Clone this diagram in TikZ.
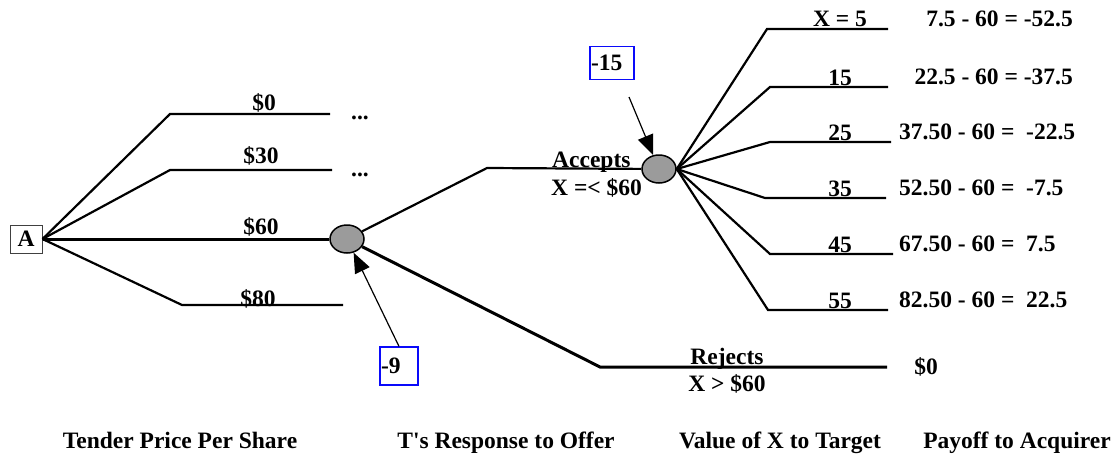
\documentclass[tikz,border=0pt]{standalone}
\usepackage{fontspec}
\setmainfont{Liberation Serif}
\usetikzlibrary{arrows.meta,shapes.geometric}

\definecolor{chancegray}{RGB}{155,155,155}
\definecolor{boxblue}{RGB}{10,10,250}

\tikzset{
  txt/.style={font=\fontsize{23.5}{27}\selectfont\bfseries, inner sep=0pt},
  lbl/.style={txt, anchor=base},
  branch/.style={line width=2.2pt},
  heavy/.style={line width=3pt},
  chance/.style={draw, ellipse, fill=chancegray, line width=1.5pt, minimum width=34pt, minimum height=28pt, inner sep=0pt},
  decision/.style={txt, draw=black!75, line width=1pt, minimum width=32pt, minimum height=28pt},
  valuebox/.style={txt, draw=boxblue, line width=1.2pt, align=left},
  pointer/.style={line width=1.2pt, -{Triangle[length=20pt,width=16pt]}}
}

\begin{document}
\begin{tikzpicture}[x=1pt,y=-1pt]

    \useasboundingbox (0,0) rectangle (1115,455);

    % Decision node of the acquirer
    \node[decision] (A) at (26,239) {A};

    % Tender price branches
    \coordinate (p0a) at (170,114);  \coordinate (p0b) at (330,114);
    \coordinate (p30a) at (170,170); \coordinate (p30b) at (332,170);
    \coordinate (p80a) at (182,305); \coordinate (p80b) at (343,305);
    \node[chance] (T) at (347,239) {};

    \draw[branch] (A.east) -- (p0a) -- (p0b);
    \draw[branch] (A.east) -- (p30a) -- (p30b);
    \draw[heavy] (A.east) -- (T);
    \draw[branch] (A.east) -- (p80a) -- (p80b);

    \node[lbl] (l0) at (264,110) {\$0};
    \node[lbl] (l30) at (261,163) {\$30};
    \node[lbl] (l60) at (261,234) {\$60};
    \node[lbl] (l80) at (258,306) {\$80};
    \node[lbl] (d0) at (360,119) {...};
    \node[lbl] (d30) at (360,176) {...};

    % Target's response
    \coordinate (acc) at (487,168);
    \coordinate (rej) at (600,367); \coordinate (rejend) at (887,367);
    \node[chance] (U) at (659,169) {};

    \draw[branch] (T) -- (acc) -- (U);
    \draw[heavy] (T) -- (rej) -- (rejend);

    \node[lbl, anchor=base west] (accA) at (552,167) {Accepts};
    \node[lbl, anchor=base west] (accB) at (551,195) {X =< \$60};
    \node[lbl] (rejA) at (727,364) {Rejects};
    \node[lbl] (rejB) at (727,391) {X > \$60};
    \node[lbl] (pay0) at (926,374) {\$0};

    % Values at the chance nodes
    \node[valuebox, minimum width=38pt, minimum height=38pt, text width=36pt] (v9) at (399,366) {-9};
    \node[valuebox, minimum width=44pt, minimum height=33pt, text width=42pt] (v15) at (612,63) {-15};
    \coordinate (s15) at (629,97);

    \draw[pointer] (v9.north) -- (T);
    \draw[pointer] (s15) -- (U);

    % Values of X
    \foreach \n/\cx/\y/\ex/\v in {1/767/29/888/X = 5, 2/770/87/888/15, 3/770/142/891/25,
                                  4/765/198/886/35, 5/770/254/893/45, 6/768/310/888/55} {
      \coordinate (x\n a) at (\cx,\y);
      \coordinate (x\n b) at (\ex,\y);
      \draw[branch] (U.east) -- (x\n a) -- (x\n b);
      \node[lbl] (xl\n) at (840,\y-2) {\v};
    }

    % Payoffs
    \node[lbl, anchor=base east] (pay1) at (1073,27) {7.5 - 60 = -52.5};
    \node[lbl, anchor=base east] (pay2) at (1073,84) {22.5 - 60 = -37.5};
    \node[lbl, anchor=base west] (pay3) at (899,139) {37.50 - 60 =\ \ -22.5};
    \node[lbl, anchor=base west] (pay4) at (899,195) {52.50 - 60 =\ \ -7.5};
    \node[lbl, anchor=base west] (pay5) at (899,251) {67.50 - 60 =\ \ 7.5};
    \node[lbl, anchor=base west] (pay6) at (899,307) {82.50 - 60 =\ \ 22.5};

    % Column captions
    \node[lbl] (c1) at (180,448) {Tender Price Per Share};
    \node[lbl] (c2) at (506,448) {T\textquotesingle s Response to Offer};
    \node[lbl] (c3) at (780,448) {Value of X to Target};
    \node[lbl] (c4) at (1017,448) {Payoff to Acquirer};
  \end{tikzpicture}
\end{document}
